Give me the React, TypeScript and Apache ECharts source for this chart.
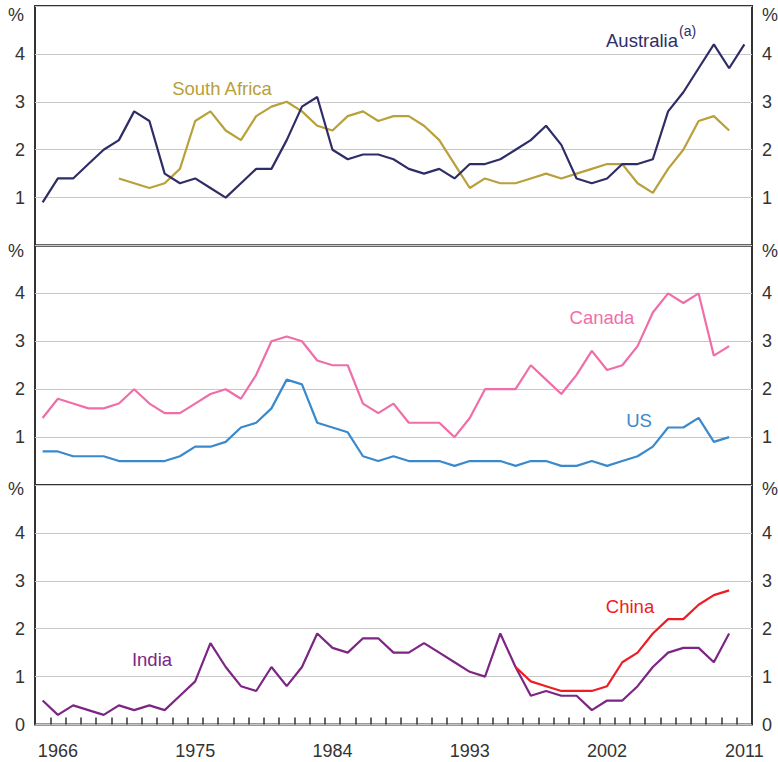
import React, { useEffect, useRef } from "react";
import * as echarts from "echarts";

// Years 1965–2011, one category per year
const years = [
  "1965", "1966", "1967", "1968", "1969", "1970", "1971", "1972", "1973", "1974",
  "1975", "1976", "1977", "1978", "1979", "1980", "1981", "1982", "1983", "1984",
  "1985", "1986", "1987", "1988", "1989", "1990", "1991", "1992", "1993", "1994",
  "1995", "1996", "1997", "1998", "1999", "2000", "2001", "2002", "2003", "2004",
  "2005", "2006", "2007", "2008", "2009", "2010", "2011",
];
const yearLabels = ["1966", "1975", "1984", "1993", "2002", "2011"];

// Top panel (from 1965)
const australia = [
  0.9, 1.4, 1.4, 1.7, 2.0, 2.2, 2.8, 2.6, 1.5, 1.3,
  1.4, 1.2, 1.0, 1.3, 1.6, 1.6, 2.2, 2.9, 3.1, 2.0,
  1.8, 1.9, 1.9, 1.8, 1.6, 1.5, 1.6, 1.4, 1.7, 1.7,
  1.8, 2.0, 2.2, 2.5, 2.1, 1.4, 1.3, 1.4, 1.7, 1.7,
  1.8, 2.8, 3.2, 3.7, 4.2, 3.7, 4.2,
];
const southAfrica = [
  null, null, null, null, null,
  1.4, 1.3, 1.2, 1.3, 1.6, 2.6, 2.8, 2.4, 2.2, 2.7,
  2.9, 3.0, 2.8, 2.5, 2.4, 2.7, 2.8, 2.6, 2.7, 2.7,
  2.5, 2.2, 1.7, 1.2, 1.4, 1.3, 1.3, 1.4, 1.5, 1.4,
  1.5, 1.6, 1.7, 1.7, 1.3, 1.1, 1.6, 2.0, 2.6, 2.7, 2.4,
];

// Middle panel
const canada = [
  1.4, 1.8, 1.7, 1.6, 1.6, 1.7, 2.0, 1.7, 1.5, 1.5,
  1.7, 1.9, 2.0, 1.8, 2.3, 3.0, 3.1, 3.0, 2.6, 2.5,
  2.5, 1.7, 1.5, 1.7, 1.3, 1.3, 1.3, 1.0, 1.4, 2.0,
  2.0, 2.0, 2.5, 2.2, 1.9, 2.3, 2.8, 2.4, 2.5, 2.9,
  3.6, 4.0, 3.8, 4.0, 2.7, 2.9,
];
const us = [
  0.7, 0.7, 0.6, 0.6, 0.6, 0.5, 0.5, 0.5, 0.5, 0.6,
  0.8, 0.8, 0.9, 1.2, 1.3, 1.6, 2.2, 2.1, 1.3, 1.2,
  1.1, 0.6, 0.5, 0.6, 0.5, 0.5, 0.5, 0.4, 0.5, 0.5,
  0.5, 0.4, 0.5, 0.5, 0.4, 0.4, 0.5, 0.4, 0.5, 0.6,
  0.8, 1.2, 1.2, 1.4, 0.9, 1.0,
];

// Bottom panel
const india = [
  0.5, 0.2, 0.4, 0.3, 0.2, 0.4, 0.3, 0.4, 0.3, 0.6,
  0.9, 1.7, 1.2, 0.8, 0.7, 1.2, 0.8, 1.2, 1.9, 1.6,
  1.5, 1.8, 1.8, 1.5, 1.5, 1.7, 1.5, 1.3, 1.1, 1.0,
  1.9, 1.2, 0.6, 0.7, 0.6, 0.6, 0.3, 0.5, 0.5, 0.8,
  1.2, 1.5, 1.6, 1.6, 1.3, 1.9,
];
const china = [
  null, null, null, null, null, null, null, null, null, null,
  null, null, null, null, null, null, null, null, null, null,
  null, null, null, null, null, null, null, null, null, null,
  null,
  1.2, 0.9, 0.8, 0.7, 0.7, 0.7, 0.8, 1.3, 1.5, 1.9,
  2.2, 2.2, 2.5, 2.7, 2.8,
];

const FONT = "'Liberation Sans', Arial, sans-serif";
const AXIS_TEXT = "#333333";
const FRAME = "#333333";

const GRID_LEFT = 35;
const GRID_RIGHT = 26;
const PANEL_TOPS = [6, 245.5, 485];
const PANEL_H = 239.5;

const COLORS = {
  australia: "#2f2d66",
  southAfrica: "#b8a03a",
  canada: "#f06ea8",
  us: "#3a89cc",
  india: "#7d2584",
  china: "#ee1d25",
};

function buildOption() {
  const grids = PANEL_TOPS.map((top) => ({
    left: GRID_LEFT,
    right: GRID_RIGHT,
    top,
    height: PANEL_H,
    show: true,
    borderColor: FRAME,
    borderWidth: 2,
    backgroundColor: "transparent",
  }));

  const xAxes = PANEL_TOPS.map((_, i) => {
    const bottom = i === PANEL_TOPS.length - 1;
    return {
      type: "category",
      gridIndex: i,
      data: years,
      boundaryGap: true,
      axisLine: { show: false },
      axisTick: {
        show: bottom,
        inside: true,
        length: 7,
        interval: 0,
        lineStyle: { color: FRAME, width: 1.5 },
      },
      axisLabel: {
        show: bottom,
        interval: (_idx: number, value: string) => yearLabels.includes(value),
        margin: 17,
        fontSize: 18,
        fontFamily: FONT,
        color: AXIS_TEXT,
      },
      splitLine: { show: false },
    };
  });

  const yAxes: any[] = [];
  PANEL_TOPS.forEach((_, i) => {
    const bottom = i === PANEL_TOPS.length - 1;
    const labelFmt = (v: number) => {
      if (v === 5) return "";
      if (v === 0 && !bottom) return "";
      return String(v);
    };
    ["left", "right"].forEach((pos) => {
      yAxes.push({
        type: "value",
        gridIndex: i,
        position: pos,
        min: 0,
        max: 5,
        interval: 1,
        axisLine: { show: false },
        axisTick: { show: false },
        axisLabel: {
          formatter: labelFmt,
          margin: 10,
          fontSize: 18,
          fontFamily: FONT,
          color: AXIS_TEXT,
        },
        splitLine: {
          show: pos === "left",
          lineStyle: { color: "#c8c8c8", width: 1.2 },
        },
      });
    });
  });

  const line = (name: string, data: (number | null)[], color: string, panel: number) => ({
    name,
    type: "line",
    xAxisIndex: panel,
    yAxisIndex: panel * 2,
    data,
    symbol: "none",
    connectNulls: false,
    lineStyle: { color, width: 2.2 },
    itemStyle: { color },
    z: 3,
  });

  const txt = (
    text: string,
    x: number,
    y: number,
    color: string,
    size = 18.5,
    align: "left" | "center" | "right" = "center"
  ) => ({
    type: "text",
    x,
    y,
    style: {
      text,
      fill: color,
      fontSize: size,
      fontFamily: FONT,
      textAlign: align,
      textVerticalAlign: "middle",
    },
    z: 10,
  });

  const percentY = [15, 251, 489];
  const graphic: any[] = [];
  percentY.forEach((y) => {
    graphic.push(txt("%", 24, y, AXIS_TEXT, 18, "right"));
    graphic.push(txt("%", 762, y, AXIS_TEXT, 18, "left"));
  });
  graphic.push(txt("Australia", 678, 40, COLORS.australia, 18.5, "right"));
  graphic.push(txt("(a)", 679, 31, COLORS.australia, 14, "left"));
  graphic.push(txt("South Africa", 222, 88, COLORS.southAfrica));
  graphic.push(txt("Canada", 602, 317, COLORS.canada));
  graphic.push(txt("US", 639, 420, COLORS.us));
  graphic.push(txt("India", 152, 659, COLORS.india));
  graphic.push(txt("China", 630, 606, COLORS.china));

  return {
    animation: false,
    backgroundColor: "#ffffff",
    textStyle: { fontFamily: FONT },
    grid: grids,
    xAxis: xAxes,
    yAxis: yAxes,
    series: [
      line("South Africa", southAfrica, COLORS.southAfrica, 0),
      line("Australia", australia, COLORS.australia, 0),
      line("Canada", canada, COLORS.canada, 1),
      line("US", us, COLORS.us, 1),
      line("India", india, COLORS.india, 2),
      line("China", china, COLORS.china, 2),
    ],
    graphic,
  };
}

export default function App() {
  const ref = useRef<HTMLDivElement>(null);

  useEffect(() => {
    if (!ref.current) return;
    const chart = echarts.init(ref.current, undefined, { renderer: "svg" });
    chart.setOption(buildOption() as any);
    return () => chart.dispose();
  }, []);

  return (
    <div
      ref={ref}
      style={{ position: "absolute", left: 0, top: 0, width: 778, height: 762 }}
    />
  );
}
